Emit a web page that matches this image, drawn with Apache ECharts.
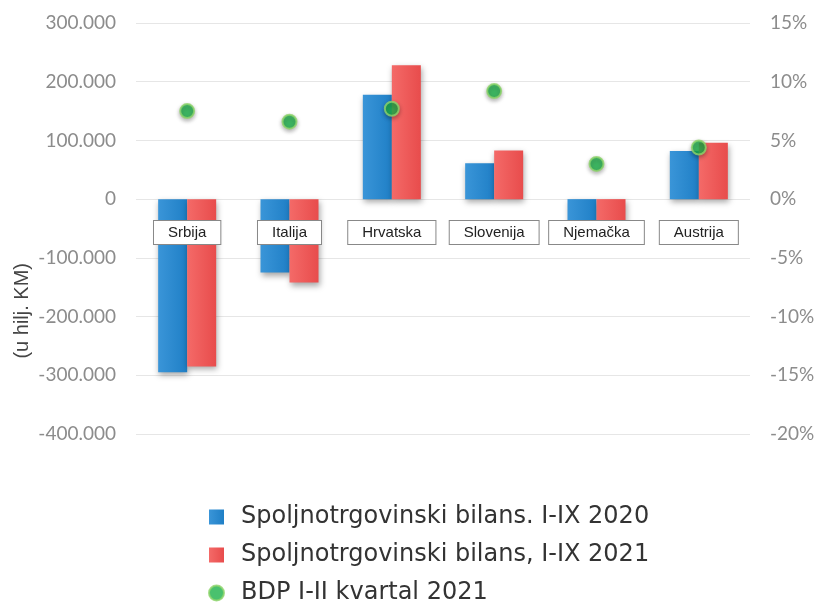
<!DOCTYPE html>
<html><head><meta charset="utf-8">
<script src="https://cdn.jsdelivr.net/npm/echarts@6/dist/echarts.min.js"></script>
<style>html,body{margin:0;padding:0;background:#fff}#c{width:815px;height:610px}</style>
</head><body><div id="c"></div>
<script>
var categories = ['Srbija', 'Italija', 'Hrvatska', 'Slovenija', 'Njemačka', 'Austrija'];
var bilans2020 = [-295000, -125000, 178000, 61000, -42000, 82000];
var bilans2021 = [-285000, -142000, 228000, 83000, -42000, 96000];
var bdp2021 = [7.5, 6.6, 7.7, 9.2, 3.0, 4.4];
var seriesNames = ['Spoljnotrgovinski bilans. I-IX 2020', 'Spoljnotrgovinski bilans, I-IX 2021', 'BDP I-II kvartal 2021'];
var yAxisTitle = '(u hilj. KM)';

function fmtThousands(v) {
  var s = Math.abs(v).toString().replace(/\B(?=(\d{3})+(?!\d))/g, '.');
  return (v < 0 ? '-' : '') + s;
}

var chart = echarts.init(document.getElementById('c'));
var shadow = {shadowBlur: 6, shadowColor: 'rgba(0,0,0,0.35)', shadowOffsetY: 3, shadowOffsetX: 1};
chart.setOption({
  animation: false,
  grid: {left: 136, right: 65, top: 23, bottom: 176, outerBoundsMode: 'none', containLabel: false},
  legend: {
    orient: 'vertical', left: 208, top: 504, padding: 0, itemWidth: 15, itemHeight: 15, itemGap: 12,
    textStyle: {fontSize: 24, lineHeight: 26, color: '#333', fontFamily: 'DejaVu Sans', padding: [0, 0, 0, 12]},
    data: [{name: seriesNames[0], icon: 'rect'}, {name: seriesNames[1], icon: 'rect'}, {name: seriesNames[2], icon: 'circle'}]
  },
  graphic: [{
    type: 'text', left: 12, top: 263, rotation: Math.PI / 2,
    style: {text: yAxisTitle, fill: '#444', font: '20px "Liberation Sans"'}
  }],
  xAxis: {
    type: 'category', data: categories, offset: -235,
    axisLine: {show: false, onZero: false}, axisTick: {show: false},
    axisLabel: {
      margin: 22, fontSize: 15, color: '#222', fontFamily: 'Liberation Sans',
      backgroundColor: '#fff', borderColor: '#888', borderWidth: 1, padding: [4, 14, 4, 14]
    },
    z: 10
  },
  yAxis: [{
    type: 'value', min: -400000, max: 300000, interval: 100000,
    axisLine: {show: false}, axisTick: {show: false},
    splitLine: {lineStyle: {color: '#e6e6e6'}},
    axisLabel: {margin: 20, fontSize: 19, color: '#8c8c8c', fontFamily: 'Lato', formatter: fmtThousands}
  }, {
    type: 'value', min: -20, max: 15, interval: 5,
    axisLine: {show: false}, axisTick: {show: false}, splitLine: {show: false},
    axisLabel: {margin: 20, fontSize: 19, color: '#8c8c8c', fontFamily: 'Lato', formatter: '{value}%'}
  }],
  series: [{
    name: seriesNames[0], type: 'bar', data: bilans2020, barWidth: 29, barGap: '0%',
    itemStyle: Object.assign({color: new echarts.graphic.LinearGradient(0, 0, 1, 0, [{offset: 0, color: '#3a95d8'}, {offset: 1, color: '#1f7fc6'}])}, shadow)
  }, {
    name: seriesNames[1], type: 'bar', data: bilans2021, barWidth: 29,
    itemStyle: Object.assign({color: new echarts.graphic.LinearGradient(0, 0, 1, 0, [{offset: 0, color: '#f46a68'}, {offset: 1, color: '#e84c4c'}])}, shadow)
  }, {
    name: seriesNames[2], type: 'scatter', yAxisIndex: 1, data: bdp2021, symbolSize: 14, z: 5,
    itemStyle: {color: '#1db14a', borderColor: '#8fd46a', borderWidth: 2, shadowBlur: 4, shadowColor: 'rgba(0,0,0,0.35)', shadowOffsetY: 2}
  }]
});
</script>
</body></html>
